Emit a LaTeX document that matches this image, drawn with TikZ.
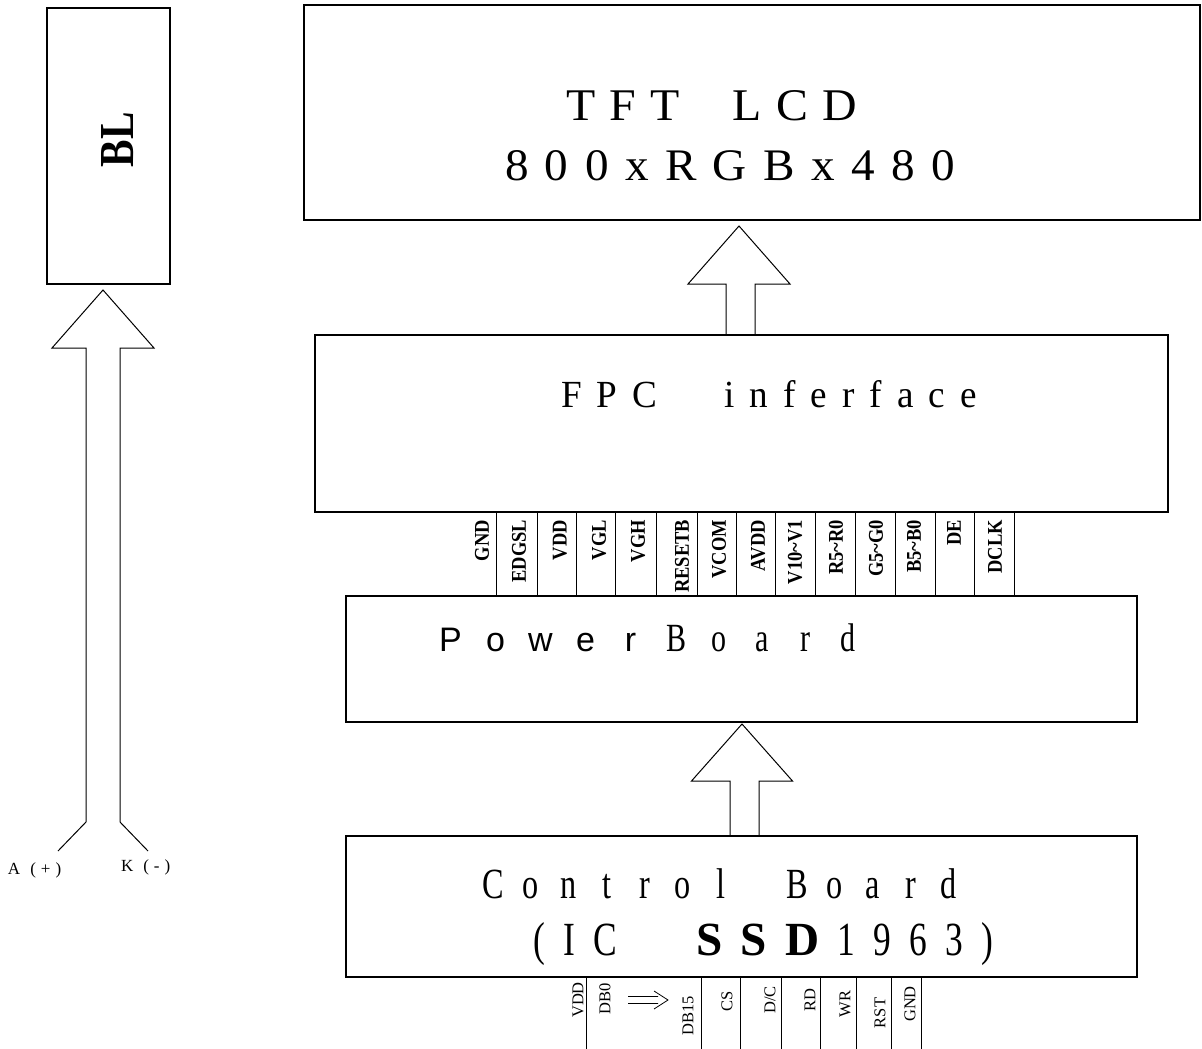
\documentclass[tikz,border=0pt]{standalone}
\usepackage{fontspec}
\setmainfont{Liberation Serif}
\setsansfont{Liberation Sans}
\newfontfamily\condserif[FakeStretch=0.75]{Liberation Serif}
\newfontfamily\pinserif[FakeStretch=0.88]{Liberation Serif}
\usetikzlibrary{calc}
\makeatletter
\newcommand\monotext[2]{\@tfor\mt@c:=#2\do{\makebox[#1][c]{\mt@c}}}
\newcommand\gaptext[2]{\@tfor\mt@c:=#2\do{{\mt@c}\hspace{#1}}\unskip}
\makeatother
\newcommand\fitbox[3]{\resizebox{#1}{#2}{#3}}
\newcommand\blockarrow[5]{%
  \draw[arrowline] let \p1=(#1), \p2=(#2) in
    (\x1-#4,\y1) -- (\x1-#4,\y2-#5) -- (\x2-#3,\y2-#5) -- (\x2,\y2)
    -- (\x2+#3,\y2-#5) -- (\x1+#4,\y2-#5) -- (\x1+#4,\y1);}
\begin{document}
\begin{tikzpicture}[x=1pt,y=-1pt,
  box/.style={draw, line width=1.1pt, inner sep=0pt, outer sep=0pt, anchor=north west},
  arrowline/.style={line width=1pt, line join=miter},
  divider/.style={line width=0.9pt},
  txt/.style={inner sep=0pt, outer sep=0pt},
  toppin/.style={txt, rotate=90, anchor=east, font=\pinserif\bfseries\fontsize{21}{23}\selectfont},
  botpin/.style={txt, rotate=90, anchor=center, font=\fontsize{16.5}{18}\selectfont}]
\useasboundingbox (0,0) rectangle (1202,1049);

% boxes
\node[box, minimum width=123pt, minimum height=276pt] (bl) at (47,8) {};
\node[box, minimum width=896pt, minimum height=215pt] (tft) at (304,5) {};
\node[box, minimum width=853pt, minimum height=177pt] (fpc) at (315,335) {};
\node[box, minimum width=791pt, minimum height=126pt] (power) at (346,596) {};
\node[box, minimum width=791pt, minimum height=141pt] (ctrl) at (346,836) {};

% box texts
\node[txt, rotate=90, anchor=base west] (bltext) at (133,167) {\fitbox{55pt}{32pt}{\bfseries BL}};
\node[txt, anchor=base west] (tfttext1) at (566,121)
  {\fitbox{291pt}{30pt}{\fontsize{46}{50}\selectfont\gaptext{14pt}{TFT{\hspace{22pt}}LCD}}};
\node[txt, anchor=base west] (tfttext2) at (505,180)
  {\fitbox{450pt}{30pt}{\fontsize{46}{50}\selectfont\gaptext{16pt}{800xRGBx480}}};
\node[txt, anchor=base west] (fpctext) at (561,407)
  {\fitbox{416pt}{27pt}{\fontsize{37}{40}\selectfont\gaptext{15pt}{FPC{\hspace{37pt}}inferface}}};
\node[txt, anchor=base west] (powertext1) at (428,651)
  {\sffamily\fontsize{34}{37}\selectfont\monotext{45pt}{Power}};
\node[txt, anchor=base west] (powertext2) at (655,651)
  {\condserif\fontsize{40}{44}\selectfont\monotext{43pt}{Board}};
\node[txt, anchor=base west] (ctrltext1) at (474,898)
  {\condserif\fontsize{43}{47}\selectfont\monotext{38pt}{Control~Board}};
\node[txt, anchor=base west] (ctrltext2) at (533,955)
  {\fitbox{460pt}{33pt}{\condserif\fontsize{44}{48}\selectfont\gaptext{17pt}{(IC{\hspace{40pt}}{\rmfamily\bfseries S}{\rmfamily\bfseries S}{\rmfamily\bfseries D}1963)}}};

% block arrows
\coordinate (blbot) at (103,822);
\coordinate (bltip) at ($(bl.south)+(-5.5,6)$);
\blockarrow{blbot}{bltip}{51pt}{17pt}{58pt}
\coordinate (fpctip) at ($(tft.south)+(-13,6)$);
\coordinate (fpcbot) at ($(fpc.north)+(-1,0)$);
\blockarrow{fpcbot}{fpctip}{51pt}{14.5pt}{58pt}
\coordinate (ctrltip) at ($(power.south)+(0.5,2)$);
\coordinate (ctrlbot) at ($(ctrl.north)+(3,0)$);
\blockarrow{ctrlbot}{ctrltip}{50.5pt}{14.5pt}{57pt}

% backlight legs and labels
\coordinate (legA) at (58,851);
\coordinate (legK) at (148,851);
\draw[arrowline] ($(blbot)+(-17,0)$) -- (legA);
\draw[arrowline] ($(blbot)+(17,0)$) -- (legK);
\node[txt, anchor=base west, font=\fontsize{17}{19}\selectfont] (labA) at (8,874) {A\hspace{10pt}(\hspace{5pt}+\hspace{5pt})};
\node[txt, anchor=base west, font=\fontsize{17}{19}\selectfont] (labK) at (121,871) {K\hspace{10pt}(\hspace{5pt}-\hspace{5pt})};

% FPC pin row
\foreach \x in {496,537,576,615,656,697,736,775,815,855,895,935,974,1014}
  \draw[divider] (\x,0 |- fpc.south) -- (\x,0 |- power.north);
\foreach \x/\t [count=\i] in {482/GND,519/EDGSL,560/VDD,599/VGL,638/VGH,682/RESETB,719/VCOM,758/AVDD,795/V10\textasciitilde V1,836/R5\textasciitilde R0,876/G5\textasciitilde G0,914/B5\textasciitilde B0,954/DE,995/DCLK}
  \node[toppin] (tp\i) at (\x,520) {\t};

% control pin row
\foreach \x in {586.7,701,740.7,781,820.7,856.7,891.7,921.7}
  \draw[divider] (\x,0 |- ctrl.south) -- (\x,1049);
\foreach \x/\y/\t [count=\i] in {578/1000/VDD,605/999/DB0,688/1016/DB15,727/1001/CS,770/1000/{D/C},810/1000/RD,845/1004/WR,880/1013/RST,910/1004/GND}
  \node[botpin] (bp\i) at (\x,\y) {\t};
% double arrow glyph between DB0 and DB15
\coordinate (dba) at (628,1000);
\coordinate (dbb) at (668,1000);
\draw[line width=0.8pt] ($(dba)+(0,-3.5)$) -- ($(dbb)+(-10,-3.5)$)
  ($(dba)+(0,3.5)$) -- ($(dbb)+(-10,3.5)$)
  ($(dbb)+(-14,-9)$) -- (dbb) -- ($(dbb)+(-14,9)$);
\end{tikzpicture}
\end{document}
